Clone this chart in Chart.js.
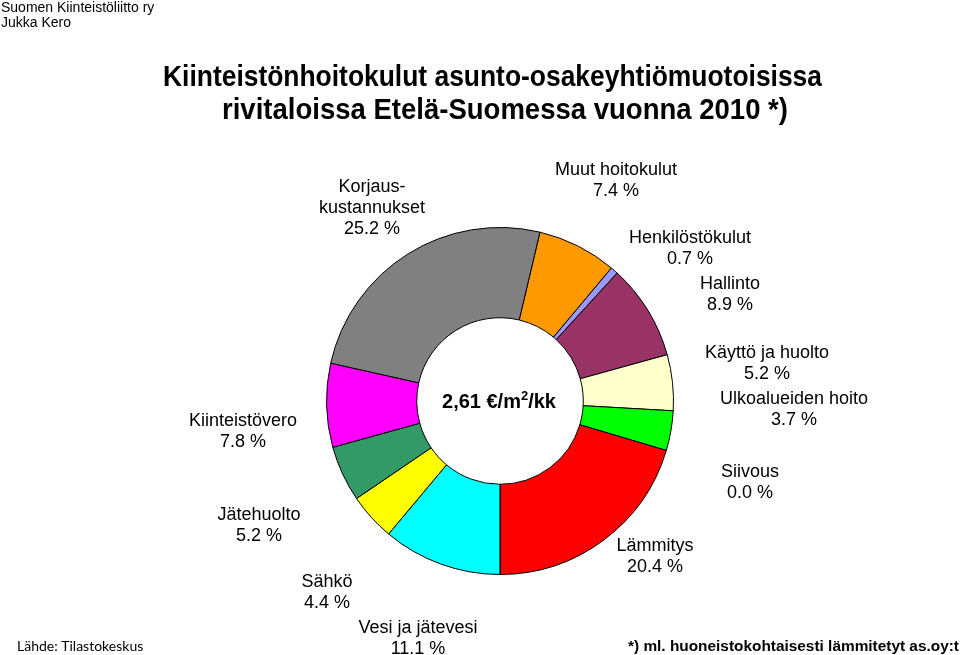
<!DOCTYPE html>
<html>
<head>
<meta charset="utf-8">
<script src="https://cdn.jsdelivr.net/npm/chart.js@4/dist/chart.umd.min.js"></script>
<style>
  html, body { margin: 0; padding: 0; background: #fff; }
  #wrap { width: 960px; height: 655px; position: relative; }
</style>
</head>
<body>
<div id="wrap"><canvas id="chart" width="960" height="655"></canvas></div>
<script>
// data, clockwise from the top
const categories = [
  'Muut hoitokulut', 'Henkilöstökulut', 'Hallinto', 'Käyttö ja huolto',
  'Ulkoalueiden hoito', 'Siivous', 'Lämmitys', 'Vesi ja jätevesi',
  'Sähkö', 'Jätehuolto', 'Kiinteistövero', 'Korjauskustannukset'
];
const shares = [7.4, 0.7, 8.9, 5.2, 3.7, 0.0, 20.4, 11.1, 4.4, 5.2, 7.8, 25.2];
const colors = [
  '#FF9900', '#9999FF', '#993366', '#FFFFCC',
  '#00FF00', '#0066CC', '#FF0000', '#00FFFF',
  '#FFFF00', '#339966', '#FF00FF', '#808080'
];
const centerValue = '2,61';

// where each label sits: centre x, first baseline y
const labelPos = [
  [616, 175], [690, 243], [730, 289], [767, 358],
  [794, 404], [750, 477], [655, 551], [418, 633],
  [327, 587], [259, 520], [243, 426], [372, 192]
];
const splitNames = { 'Korjauskustannukset': ['Korjaus-', 'kustannukset'] };

// Lämmitys ends straight down, so rotate the start to match
const beforeBottom = shares.slice(0, 7).reduce((a, b) => a + b, 0);
const startAngle = 180 - beforeBottom / 100 * 360;

// draw a line squeezed/stretched to a given width
function fitText(c, txt, cx, y, width) {
  const sx = width / c.measureText(txt).width;
  c.save();
  c.translate(cx, y);
  c.scale(sx, 1);
  c.fillText(txt, 0, 0);
  c.restore();
}

const textPlugin = {
  id: 'texts',
  afterDraw(chart) {
    const c = chart.ctx;
    c.save();
    c.fillStyle = '#000';
    c.textBaseline = 'alphabetic';

    // header
    c.textAlign = 'left';
    c.font = '14px "Liberation Sans", Arial, sans-serif';
    c.fillText('Suomen Kiinteistöliitto ry', 1, 12);
    c.fillText('Jukka Kero', 1, 27);

    // title, squeezed like a narrow font
    c.font = 'bold 29px "Liberation Sans", Arial, sans-serif';
    c.textAlign = 'center';
    fitText(c, 'Kiinteistönhoitokulut asunto-osakeyhtiömuotoisissa', 492.5, 86, 659);
    fitText(c, 'rivitaloissa Etelä-Suomessa vuonna 2010 *)', 505, 119, 566);

    // slice labels
    c.font = '18px "Liberation Sans", Arial, sans-serif';
    c.textAlign = 'center';
    categories.forEach((name, i) => {
      const lines = (splitNames[name] || [name]).concat(shares[i].toFixed(1) + ' %');
      const [x, y] = labelPos[i];
      const lh = lines.length > 2 ? 21 : 20.5;
      lines.forEach((ln, k) => c.fillText(ln, x, y + k * lh));
    });

    // centre text
    const big = 'bold 20px "Liberation Sans", Arial, sans-serif';
    const small = 'bold 13px "Liberation Sans", Arial, sans-serif';
    const p1 = centerValue + ' €/m', p2 = '2', p3 = '/kk';
    c.font = big;
    const w1 = c.measureText(p1).width, w3 = c.measureText(p3).width;
    c.font = small;
    const w2 = c.measureText(p2).width;
    let x0 = 499 - (w1 + w2 + w3) / 2;
    c.textAlign = 'left';
    c.font = big;
    c.fillText(p1, x0, 408);
    c.font = small;
    c.fillText(p2, x0 + w1, 400);
    c.font = big;
    c.fillText(p3, x0 + w1 + w2, 408);

    // footer
    c.font = '14px Lato, "Open Sans", sans-serif';
    c.fillText('Lähde: Tilastokeskus', 17, 651);
    c.font = 'bold 15.4px "Liberation Sans", Arial, sans-serif';
    c.fillText('*) ml. huoneistokohtaisesti lämmitetyt as.oy:t', 628, 651);
    c.restore();
  }
};

const ctx = document.getElementById('chart').getContext('2d');
const chart = new Chart(ctx, {
  type: 'doughnut',
  data: {
    labels: categories,
    datasets: [{
      data: shares,
      backgroundColor: colors,
      borderColor: '#000',
      borderWidth: 1
    }]
  },
  options: {
    responsive: false,
    animation: false,
    rotation: startAngle,
    cutout: '48%',
    layout: { padding: { left: 326, right: 286, top: 227, bottom: 80 } },
    plugins: {
      legend: { display: false },
      tooltip: { enabled: false }
    }
  },
  plugins: [textPlugin]
});
</script>
</body>
</html>
